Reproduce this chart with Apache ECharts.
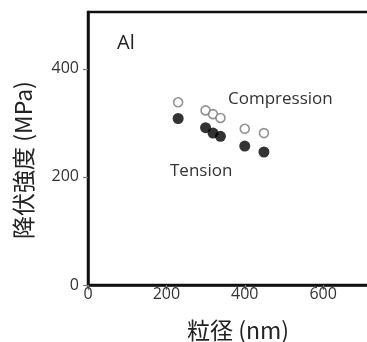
<!DOCTYPE html>
<html>
<head>
<meta charset="utf-8">
<script src="https://cdn.jsdelivr.net/npm/echarts@6/dist/echarts.min.js"></script>
<style>
html, body { margin: 0; padding: 0; background: #fff; }
#main { width: 367px; height: 342px; }
</style>
</head>
<body>
<div id="main"></div>
<script>
// grain size (nm) vs yield strength (MPa)
var grain_size = [230, 300, 319, 338, 400, 449];
var compression = [338, 323, 316, 309, 289, 281];
var tension = [308, 291, 281, 275, 257, 246];
var x_ticks = [0, 200, 400, 600];
var y_ticks = [0, 200, 400];

var main_dom = document.getElementById("main");
var main_chart = echarts.init(main_dom);

var font_latin = '"Open Sans", "Noto Sans", sans-serif';
var font_cjk = '"Noto Sans CJK JP", "Noto Sans", sans-serif';

function pairs(xs, ys) {
    var out = [];
    for (var i = 0; i < xs.length; i++) {
        out.push([xs[i], ys[i]]);
    }
    return out;
}

main_chart.setOption({
    animation: false,
    grid: {
        left: 88,
        top: 12,
        right: -11,
        bottom: 57,
        outerBoundsMode: 'none',
        containLabel: false,
        show: true,
        borderColor: '#111',
        borderWidth: 2.5,
        backgroundColor: 'transparent'
    },
    xAxis: {
        type: 'value',
        min: 0,
        max: 740,
        interval: 200,
        splitLine: {show: false},
        axisLine: {show: true, lineStyle: {color: '#111', width: 2.5}},
        axisTick: {show: true, length: 5, lineStyle: {color: '#777', width: 1.2}},
        axisLabel: {
            color: '#333',
            fontSize: 16,
            fontFamily: font_latin,
            margin: 1,
            showMaxLabel: false,
            formatter: function (v) { return x_ticks.indexOf(v) >= 0 ? String(v) : ''; }
        }
    },
    yAxis: {
        type: 'value',
        min: 0,
        max: 505,
        interval: 200,
        splitLine: {show: false},
        axisLine: {show: true, lineStyle: {color: '#111', width: 2.5}},
        axisTick: {show: true, length: 5, lineStyle: {color: '#777', width: 1.2}},
        axisLabel: {
            color: '#333',
            fontSize: 16,
            fontFamily: font_latin,
            margin: 9,
            showMaxLabel: false,
            formatter: function (v) { return y_ticks.indexOf(v) >= 0 ? String(v) : ''; }
        }
    },
    series: [
        {
            name: 'Compression',
            type: 'scatter',
            symbol: 'circle',
            symbolSize: 9,
            itemStyle: {color: '#fff', borderColor: '#777', borderWidth: 1.6},
            data: pairs(grain_size, compression)
        },
        {
            name: 'Tension',
            type: 'scatter',
            symbol: 'circle',
            symbolSize: 11,
            itemStyle: {color: '#000'},
            data: pairs(grain_size, tension)
        }
    ],
    graphic: [
        {
            type: 'text', left: 117, top: 33,
            style: {text: 'Al', fontSize: 20, fontFamily: font_latin, fill: '#222'}
        },
        {
            type: 'text', x: 228, y: 99,
            style: {text: 'Compression', fontSize: 17, fontFamily: font_latin, fill: '#333',
                    verticalAlign: 'middle'}
        },
        {
            type: 'text', x: 170, y: 171,
            style: {text: 'Tension', fontSize: 17, fontFamily: font_latin, fill: '#333',
                    verticalAlign: 'middle'}
        },
        {
            type: 'text', x: 238, y: 330,
            style: {text: '粒径 (nm)', fontSize: 23, fontFamily: font_cjk, fill: '#222',
                    align: 'center', verticalAlign: 'middle'}
        },
        {
            type: 'text', x: 23, y: 160, rotation: Math.PI / 2,
            style: {text: '降伏強度 (MPa)', fontSize: 23, fontFamily: font_cjk, fill: '#222',
                    align: 'center', verticalAlign: 'middle'}
        }
    ]
});
</script>
</body>
</html>
